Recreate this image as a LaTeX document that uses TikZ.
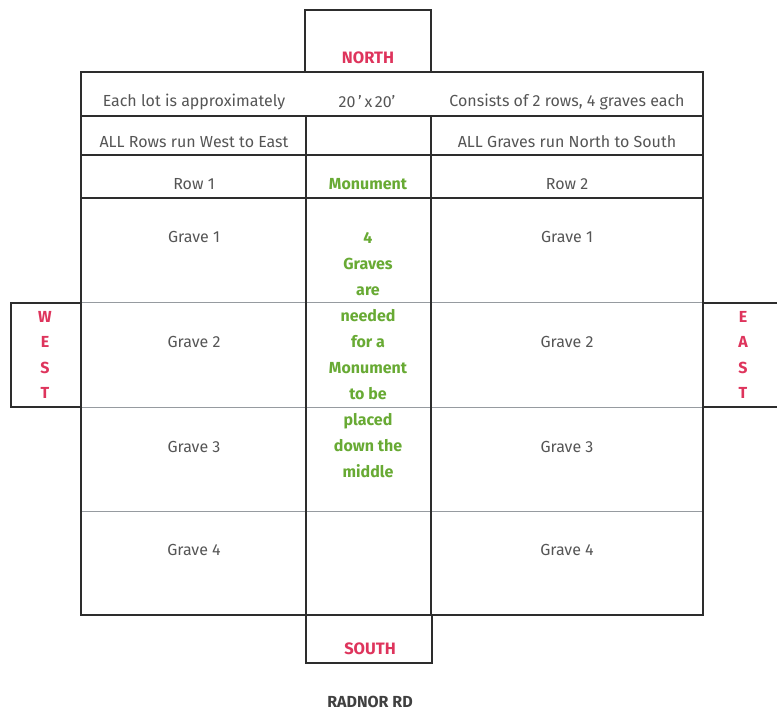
\documentclass[tikz,border=0pt]{standalone}
\usepackage{fontspec}
\setmainfont{Fira Sans}
\definecolor{txtgray}{RGB}{85,85,85}
\definecolor{dirred}{RGB}{222,52,92}
\definecolor{mongreen}{RGB}{104,170,52}
\definecolor{linegray}{RGB}{45,45,45}
\definecolor{thingray}{RGB}{150,155,160}
\tikzset{
  boxline/.style={draw=linegray, line width=1.7pt},
  thinline/.style={draw=thingray, line width=0.9pt},
  lbl/.style={font=\fontsize{16}{18}\selectfont, text=txtgray, inner sep=0pt},
  dir/.style={font=\fontsize{16.5}{18}\selectfont\bfseries, text=dirred, inner sep=0pt},
  mon/.style={font=\fontsize{16}{18}\selectfont\bfseries, text=mongreen, inner sep=0pt}
}
\begin{document}
\begin{tikzpicture}[x=1pt,y=-1pt]
\useasboundingbox (0,0) rectangle (777,713);
% grave dividers (thin)
\draw[thinline] (81,302) -- (703,302);
\draw[thinline] (81,407) -- (703,407);
\draw[thinline] (81,511) -- (703,511);
% north box
\draw[boxline] (305,72) -- (305,10) -- (431,10) -- (431,72);
% outer
\draw[boxline] (81,72) rectangle (703,615);
\draw[boxline] (81,116) -- (703,116);
\draw[boxline] (81,155) -- (703,155);
\draw[boxline] (81,198) -- (703,198);
\draw[boxline] (306,116) -- (306,615);
\draw[boxline] (431,116) -- (431,615);
% west / east boxes
\draw[boxline] (81,303) -- (11,303) -- (11,407) -- (81,407);
\draw[boxline] (703,303) -- (778,303);
\draw[boxline] (703,407) -- (778,407);
% south box
\draw[boxline] (306,615) -- (306,663) -- (432,663) -- (432,615);
% texts
\node[dir] (north) at (368,58) {NORTH};
\node[dir] (south) at (370,649) {SOUTH};
\node[font=\fontsize{16}{18}\selectfont\bfseries, text=black!75, inner sep=0pt] (road) at (370,702) {RADNOR RD};
\node[lbl] (lot) at (194,102) {Each lot is approximately};
\node[lbl] (size) at (367,102) {20\,'\,x\,20'};
\node[lbl] (cons) at (567,102) {Consists of 2 rows, 4 graves each};
\node[lbl] (rows) at (194,142) {ALL Rows run West to East};
\node[lbl] (graves) at (567,142) {ALL Graves run North to South};
\node[lbl] (row1) at (194,184) {Row 1};
\node[mon] (monu) at (368,184) {Monument};
\node[lbl] (row2) at (567,184) {Row 2};
\node[lbl] (g11) at (194,237) {Grave 1};
\node[lbl] (g12) at (194,342) {Grave 2};
\node[lbl] (g13) at (194,447) {Grave 3};
\node[lbl] (g14) at (194,550) {Grave 4};
\node[lbl] (g21) at (567,237) {Grave 1};
\node[lbl] (g22) at (567,342) {Grave 2};
\node[lbl] (g23) at (567,447) {Grave 3};
\node[lbl] (g24) at (567,550) {Grave 4};
\node[mon, align=center, font=\fontsize{16}{26}\selectfont\bfseries] (montext) at (368,355) {4\\Graves\\are\\needed\\for a\\Monument\\to be\\placed\\down the\\middle};
\node[dir, align=center, font=\fontsize{16}{25.5}\selectfont\bfseries] (west) at (45,355) {W\\E\\S\\T};
\node[dir, align=center, font=\fontsize{16}{25.5}\selectfont\bfseries] (east) at (743,355) {E\\A\\S\\T};
\end{tikzpicture}
\end{document}
